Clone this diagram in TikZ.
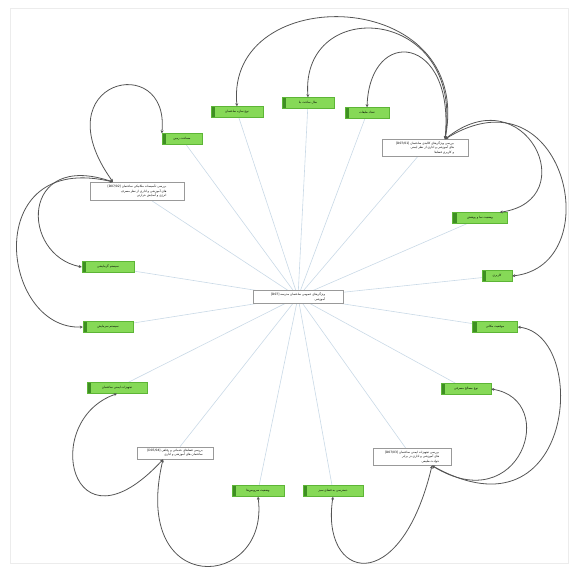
\documentclass[tikz,border=0pt]{standalone}
\usepackage{fontspec}
\newfontfamily\fa[Script=Arabic]{DejaVu Sans}
\TeXXeTstate=1
\usetikzlibrary{arrows.meta,backgrounds}
\definecolor{leafgreen}{HTML}{86D957}
\definecolor{leafedge}{HTML}{5DB536}
\definecolor{leafdark}{HTML}{3E8F22}
\definecolor{spokeblue}{HTML}{C9D9E6}
\definecolor{ringgray}{HTML}{555555}
\newcommand{\rtl}[1]{\beginR #1\endR}

\begin{document}
\begin{tikzpicture}[x=1pt,y=-1pt,
  leaf/.style={draw=leafedge,fill=leafgreen,minimum height=11pt,inner sep=1pt,
    font=\fa\fontsize{3}{3.6}\selectfont,
    path picture={\fill[leafdark] (path picture bounding box.south west) rectangle ([xshift=4pt]path picture bounding box.north west);}},
  hub/.style={draw=gray!80,fill=white,align=right,inner sep=2.5pt,
    font=\fa\fontsize{3}{4.4}\selectfont},
  spoke/.style={draw=spokeblue,line width=0.6pt},
  ring/.style={draw=ringgray,line width=0.8pt,
    {Stealth[length=3pt,width=3pt]}-{Stealth[length=3pt,width=3pt]}}]
\useasboundingbox (0,0) rectangle (577,570);

% centre
\node[hub,minimum width=90pt] (C) at (298,297)
  {\rtl{ویژگی‌های عمومی ساختمان مدرسه \beginL[D07]\endL}\\\rtl{آموزشی}};

% groups
\node[hub,minimum width=86pt] (G1) at (425,148)
  {\rtl{بررسی ویژگی‌های کالبدی ساختمان \beginL[D07/01]\endL}\\\rtl{های آموزشی و اداری از نظر ایمنی}\\\rtl{و کاربری فضاها}};
\node[hub,minimum width=94pt] (G2) at (137,191)
  {\rtl{بررسی تأسیسات مکانیکی ساختمان \beginL[D07/02]\endL}\\\rtl{های آموزشی و اداری از نظر مصرف}\\\rtl{انرژی و آسایش حرارتی}};
\node[hub,minimum width=78pt] (G3) at (412,457)
  {\rtl{بررسی تجهیزات ایمنی ساختمان \beginL[D07/03]\endL}\\\rtl{های آموزشی و اداری در برابر}\\\rtl{حوادث طبیعی}};
\node[hub,minimum width=76pt] (G4) at (175,453)
  {\rtl{بررسی فضاهای خدماتی و رفاهی \beginL[D07/04]\endL}\\\rtl{ساختمان های آموزشی و اداری}};

% leaves
\node[leaf,minimum width=52pt] (T1) at (237,112) {\rtl{نوع سازه ساختمان}};
\node[leaf,minimum width=52pt] (T2) at (308,103) {\rtl{سال ساخت بنا}};
\node[leaf,minimum width=44pt] (T3) at (367,113) {\rtl{تعداد طبقات}};
\node[leaf,minimum width=40pt] (TL) at (182,139) {\rtl{مساحت زمین}};
\node[leaf,minimum width=55pt] (R1) at (480,218) {\rtl{وضعیت نما و پوشش}};
\node[leaf,minimum width=30pt] (R2) at (497,276) {\rtl{کاربری}};
\node[leaf,minimum width=45pt] (R3) at (495,327) {\rtl{موقعیت مکانی}};
\node[leaf,minimum width=52pt] (M1) at (108,267) {\rtl{سیستم گرمایشی}};
\node[leaf,minimum width=50pt] (M2) at (108,327) {\rtl{سیستم سرمایش}};
\node[leaf,minimum width=60pt] (LB) at (117,388) {\rtl{تجهیزات ایمنی ساختمان}};
\node[leaf,minimum width=50pt] (R4) at (466,389) {\rtl{نوع مصالح مصرفی}};
\node[leaf,minimum width=52pt] (B1) at (258,491) {\rtl{وضعیت سرویس‌ها}};
\node[leaf,minimum width=60pt] (B2) at (333,491) {\rtl{دسترسی به فضای سبز}};

\begin{pgfonlayer}{background}
  \draw[gray!15] (10,8) rectangle (568,563);
  \foreach \n in {G1,G2,G3,G4,T1,T2,T3,TL,R1,R2,R3,M1,M2,LB,R4,B1,B2}
    \draw[spoke] (C) -- (\n);
\end{pgfonlayer}

% loops
\draw[ring] ([xshift=20pt]G1.north) .. controls (475,-15) and (225,-20) .. (T1.north);
\draw[ring] ([xshift=20pt]G1.north) .. controls (465,5) and (300,-5) .. (T2.north);
\draw[ring] ([xshift=20pt]G1.north) .. controls (455,35) and (370,25) .. (T3.north);
\draw[ring] ([xshift=20pt]G1.north) .. controls (525,75) and (585,200) .. ([xshift=-8pt]R1.north east);
\draw[ring] ([xshift=20pt]G1.north) .. controls (565,65) and (610,265) .. (R2.east);
\draw[ring] ([xshift=-24pt]G2.north) .. controls (40,80) and (170,50) .. (TL.north west);
\draw[ring] ([xshift=-24pt]G2.north) .. controls (20,150) and (20,255) .. (M1.west);
\draw[ring] ([xshift=-24pt]G2.north) .. controls (-20,150) and (0,330) .. (M2.west);
\draw[ring] ([xshift=-12pt]G4.south) .. controls (70,560) and (40,420) .. (LB.south);
\draw[ring] ([xshift=-12pt]G4.south) .. controls (130,600) and (270,590) .. (B1.south);
\draw[ring] ([xshift=20pt]G3.south) .. controls (400,600) and (320,580) .. (B2.south);
\draw[ring] ([xshift=20pt]G3.south) .. controls (520,520) and (560,400) .. (R4.east);
\draw[ring] ([xshift=20pt]G3.south) .. controls (575,545) and (590,335) .. (R3.east);
\end{tikzpicture}
\end{document}
